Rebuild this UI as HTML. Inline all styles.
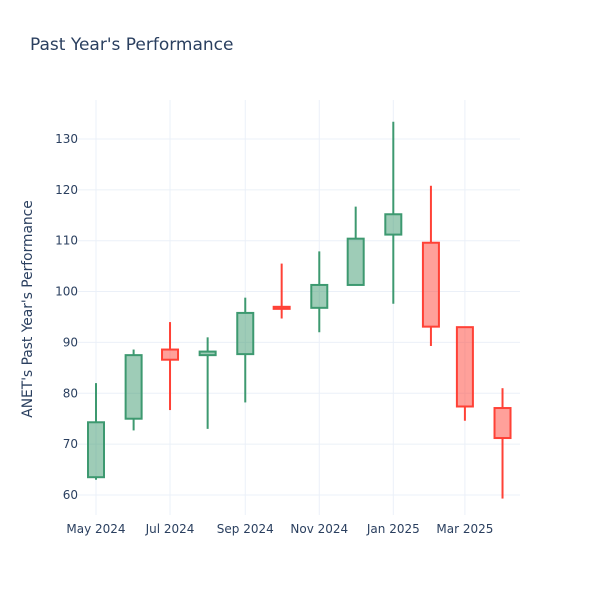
<!DOCTYPE html>
<html><head><meta charset="utf-8"><style>
body{margin:0;background:#fff;font-family:"DejaVu Sans","Liberation Sans",sans-serif}
svg text{font-family:"DejaVu Sans","Liberation Sans",sans-serif}
</style></head><body>
<svg id="chart" width="600" height="600" xmlns="http://www.w3.org/2000/svg">
<rect width="600" height="600" fill="#fff"/>
<text x="30" y="50" font-size="17" fill="#2a3f5f">Past Year's Performance</text>
<g id="grid"></g><g id="candles"></g><g id="axes"></g>
<text transform="translate(32,309) rotate(-90)" text-anchor="middle" font-size="13.8" fill="#2a3f5f">ANET's Past Year's Performance</text>
</svg>
<script>
const dates=["2024-05-01","2024-06-01","2024-07-01","2024-08-01","2024-09-01","2024-10-01","2024-11-01","2024-12-01","2025-01-01","2025-02-01","2025-03-01","2025-04-01"];
const opens=[63.5,75,88.6,87.5,87.7,97,96.8,101.3,111.2,109.6,93,77.1];
const highs=[82,88.6,94,91,98.8,105.5,107.9,116.7,133.4,120.8,93,81];
const lows=[63,72.7,76.7,73,78.2,94.7,92,101.3,97.6,89.3,74.6,59.3];
const closes=[74.3,87.5,86.6,88.2,95.8,96.6,101.3,110.4,115.2,93.1,77.4,71.2];
const yTicks=[60,70,80,90,100,110,120,130];
const xTickDates=["2024-05-01","2024-07-01","2024-09-01","2024-11-01","2025-01-01","2025-03-01"];
const xTickLabels=["May 2024","Jul 2024","Sep 2024","Nov 2024","Jan 2025","Mar 2025"];
const NS="http://www.w3.org/2000/svg";
const t0=Date.UTC(2024,4,1);
function days(s){const p=s.split("-");return (Date.UTC(+p[0],+p[1]-1,+p[2])-t0)/864e5;}
function xs(s){return 96+days(s)*1.2135;}
function ys(v){return 495-(v-60)*5.086;}
function mk(tag,attrs,parent){const e=document.createElementNS(NS,tag);for(const k in attrs)e.setAttribute(k,attrs[k]);document.getElementById(parent).appendChild(e);return e;}
yTicks.forEach(v=>{
 const l=mk("line",{x1:78,x2:520,y1:ys(v),y2:ys(v),stroke:"#ebf0f8","stroke-width":1},"grid");
 
 
 const t=mk("text",{x:78,y:ys(v)+4,"text-anchor":"end","font-size":12,fill:"#2a3f5f"},"axes");
 
 
 t.textContent=v;
});
xTickDates.forEach((d,i)=>{
 const l=mk("line",{x1:xs(d),x2:xs(d),y1:100,y2:515,stroke:"#ebf0f8","stroke-width":1},"grid");
 
 
 const t=mk("text",{x:xs(d),y:533,"text-anchor":"middle","font-size":12,fill:"#2a3f5f"},"axes");
 
 
 t.textContent=xTickLabels[i];
});
dates.forEach((d,i)=>{
 const up=closes[i]>=opens[i];
 const c=up?"#3D9970":"#FF4136", f=up?"rgba(61,153,112,0.5)":"rgba(255,65,54,0.5)";
 const x=xs(d);
 const g=mk("g",{},"candles");
 
 
 const top=Math.max(opens[i],closes[i]),bot=Math.min(opens[i],closes[i]);
 const w1=document.createElementNS(NS,"line");
 [["x1",x],["x2",x],["y1",ys(highs[i])],["y2",ys(top)],["stroke",c],["stroke-width",2]].forEach(a=>w1.setAttribute(a[0],a[1]));g.appendChild(w1);
 const w2=document.createElementNS(NS,"line");
 [["x1",x],["x2",x],["y1",ys(bot)],["y2",ys(lows[i])],["stroke",c],["stroke-width",2]].forEach(a=>w2.setAttribute(a[0],a[1]));g.appendChild(w2);
 const r=document.createElementNS(NS,"rect");
 [["x",x-8],["y",ys(top)],["width",16],["height",Math.max(ys(bot)-ys(top),1)],["fill",f],["stroke",c],["stroke-width",2]].forEach(a=>r.setAttribute(a[0],a[1]));g.appendChild(r);
});
</script>
</body></html>
